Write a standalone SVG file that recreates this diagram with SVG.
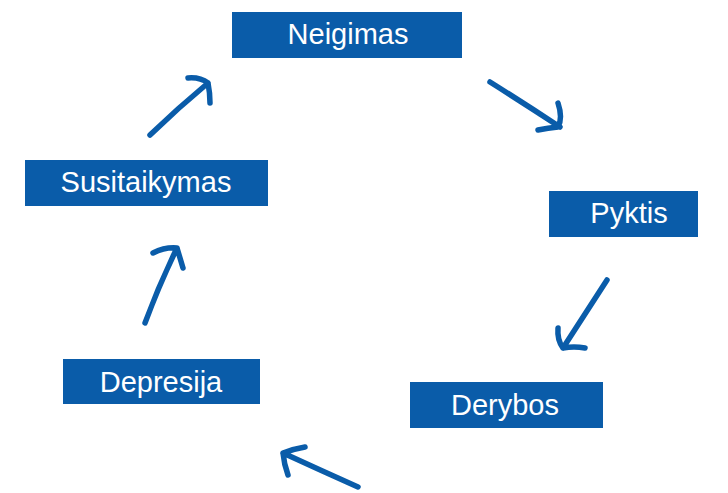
<svg xmlns="http://www.w3.org/2000/svg" width="728" height="493" viewBox="0 0 728 493">
<style>
.box{fill:#0a5ca9}
.lbl{fill:#ffffff;font-family:"Liberation Sans",Arial,sans-serif;font-size:29px;text-anchor:middle}
.arr{fill:none;stroke:#0a5ca9;stroke-width:5.5;stroke-linecap:round;stroke-linejoin:round}
</style>
<rect width="728" height="493" fill="#ffffff"/>
<g id="neigimas"><rect class="box" x="232" y="12" width="230" height="46"/><text class="lbl" x="348" y="44">Neigimas</text></g>
<g id="pyktis"><rect class="box" x="549" y="191" width="149" height="46"/><text class="lbl" x="629" y="223">Pyktis</text></g>
<g id="derybos"><rect class="box" x="410" y="382" width="193" height="46"/><text class="lbl" x="505" y="415">Derybos</text></g>
<g id="depresija"><rect class="box" x="63" y="359" width="197" height="45"/><text class="lbl" x="161" y="392">Depresija</text></g>
<g id="susitaikymas"><rect class="box" x="25" y="160" width="243" height="46"/><text class="lbl" x="146" y="192">Susitaikymas</text></g>
<g id="connectors">
<path class="arr" d="M490 82 Q525 104 560 127 M558 103 Q563 118 558 127 Q548 128 538 130"/>
<path class="arr" d="M607 280 Q585 314 563 348 M558 328 Q557 340 563 348 Q574 346 585 348"/>
<path class="arr" d="M358 487 Q320 470 283 453 M305 447 Q293 449 283 453 Q284 464 288 475"/>
<path class="arr" d="M145 323 Q159 285 177 248 M153 253 Q165 247 177 248 Q180 258 183 268"/>
<path class="arr" d="M150 135 Q178 108 208 83 M188 78 Q200 77 208 83 Q210 93 210 103"/>
</g>
</svg>
